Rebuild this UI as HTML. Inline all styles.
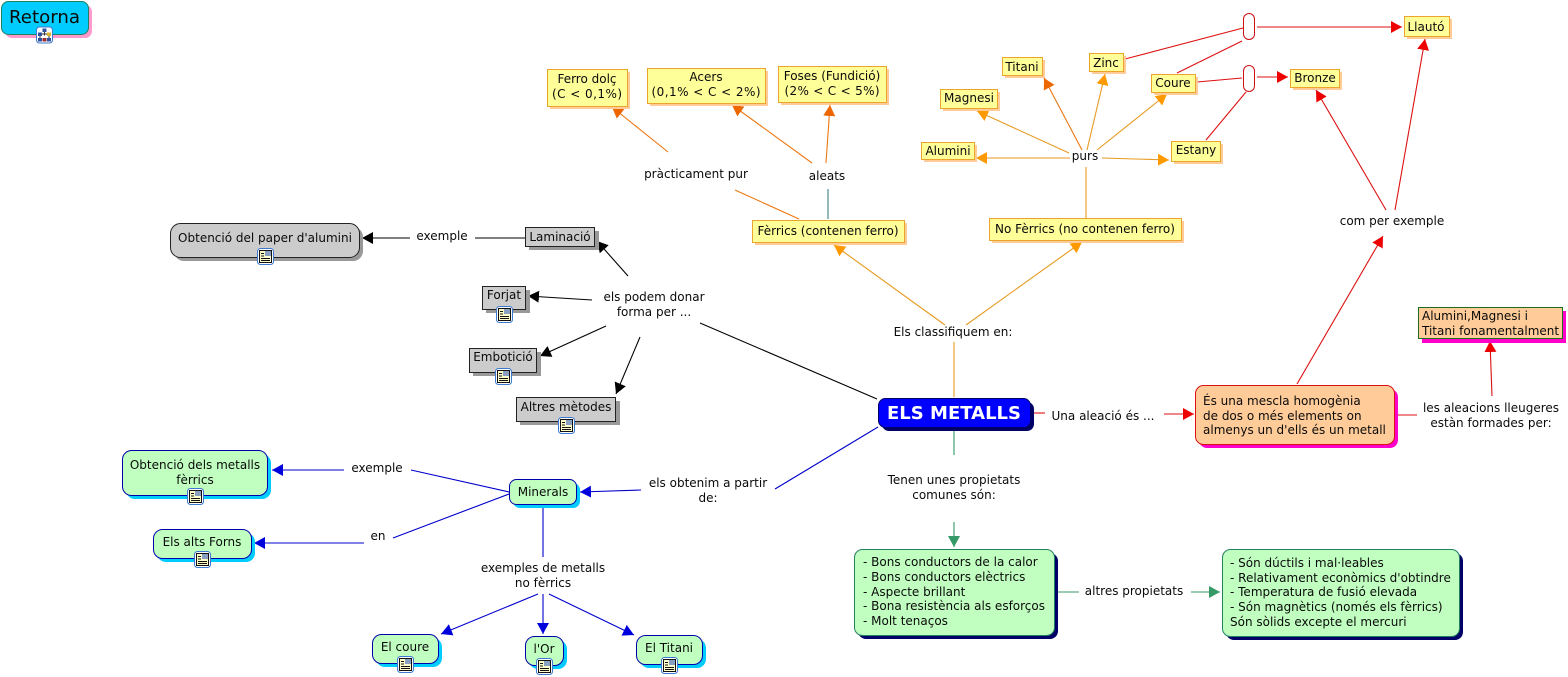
<!DOCTYPE html>
<html><head><meta charset="utf-8"><title>Els metalls</title>
<style>
html,body{margin:0;padding:0;background:#fff}
svg{display:block;font-family:"DejaVu Sans","Liberation Sans",sans-serif;font-size:12px;fill:#000}
text{text-anchor:middle;fill:#0a0a0a}
text.l{text-anchor:start}
line{stroke-width:1.1}
.o{stroke:#ee7711}.y{stroke:#e69a20}.r{stroke:#dd1111}.k{stroke:#000}.b{stroke:#0000cc}.g{stroke:#339966}
</style></head><body>
<svg width="1568" height="677" viewBox="0 0 1568 677" xmlns="http://www.w3.org/2000/svg">
<defs>
<marker id="ao" markerUnits="userSpaceOnUse" markerWidth="13" markerHeight="13" refX="11" refY="6" orient="auto"><path d="M0 0L11 6L0 12Z" fill="#ee6600"/></marker>
<marker id="ay" markerUnits="userSpaceOnUse" markerWidth="13" markerHeight="13" refX="11" refY="6" orient="auto"><path d="M0 0L11 6L0 12Z" fill="#ff9900"/></marker>
<marker id="ar" markerUnits="userSpaceOnUse" markerWidth="13" markerHeight="13" refX="11" refY="6" orient="auto"><path d="M0 0L11 6L0 12Z" fill="#ee0000"/></marker>
<marker id="ak" markerUnits="userSpaceOnUse" markerWidth="13" markerHeight="13" refX="11" refY="6" orient="auto"><path d="M0 0L11 6L0 12Z" fill="#000"/></marker>
<marker id="ab" markerUnits="userSpaceOnUse" markerWidth="13" markerHeight="13" refX="11" refY="6" orient="auto"><path d="M0 0L11 6L0 12Z" fill="#0000dd"/></marker>
<marker id="ag" markerUnits="userSpaceOnUse" markerWidth="13" markerHeight="13" refX="11" refY="6" orient="auto"><path d="M0 0L11 6L0 12Z" fill="#339966"/></marker>
<g id="ic">
<rect x="0.5" y="0.5" width="16" height="16" rx="3" fill="#fff" stroke="#3b78d0"/>
<rect x="2.5" y="2.5" width="12" height="12" fill="#ffffcc" stroke="#111"/>
<rect x="8" y="3" width="6" height="5" fill="#8aa0c0"/>
<path d="M4 5.5h3M4 8h3M4 10.5h9M4 12.5h9" stroke="#111" stroke-width="1"/>
</g>
<g id="net">
<rect x="0.5" y="0.5" width="16" height="16" rx="3" fill="#fff" stroke="#3b78d0"/>
<path d="M8.5 4V9M4 7.5H13M4 7.5V12M13 7.5V12" stroke="#333" fill="none"/>
<rect x="6.5" y="2" width="4" height="3.5" fill="#3050a0"/>
<rect x="2" y="6" width="4" height="3.5" fill="#3050a0"/>
<rect x="11" y="6" width="4" height="3.5" fill="#e0b030"/>
<rect x="2" y="11.5" width="4" height="3.5" fill="#3050a0"/>
<rect x="11" y="11.5" width="4" height="3.5" fill="#3050a0"/>
<rect x="6.5" y="11.5" width="4" height="3.5" fill="#a03030"/>
</g>
</defs>

<!-- connectors -->
<line class="o" x1="799" y1="219" x2="735" y2="190"/>
<line class="o" x1="668" y1="152" x2="612" y2="107" marker-end="url(#ao)"/>
<line class="o" x1="812" y1="163" x2="732" y2="105" marker-end="url(#ao)"/>
<line class="o" x1="826" y1="163" x2="830" y2="105" marker-end="url(#ao)"/>
<line x1="828" y1="219" x2="828" y2="189" stroke="#408080"/>
<line class="y" x1="954" y1="397" x2="954" y2="342"/>
<line class="y" x1="945" y1="325" x2="834" y2="245" marker-end="url(#ay)"/>
<line class="y" x1="966" y1="325" x2="1082" y2="242" marker-end="url(#ay)"/>
<line class="y" x1="1086" y1="218" x2="1086" y2="167"/>
<line class="y" x1="1070" y1="158" x2="976" y2="158" marker-end="url(#ay)"/>
<line class="y" x1="1102" y1="158" x2="1169" y2="160" marker-end="url(#ay)"/>
<line class="y" x1="1069" y1="153" x2="977" y2="111" marker-end="url(#ay)"/>
<line class="o" x1="1082" y1="150" x2="1044" y2="78" marker-end="url(#ao)"/>
<line class="y" x1="1087" y1="150" x2="1105" y2="74" marker-end="url(#ay)"/>
<line class="y" x1="1097" y1="150" x2="1167" y2="94" marker-end="url(#ay)"/>
<line class="r" x1="1125" y1="59" x2="1243" y2="28"/>
<line class="r" x1="1177" y1="73" x2="1242" y2="41"/>
<line class="r" x1="1197" y1="82" x2="1242" y2="78"/>
<line class="r" x1="1206" y1="140" x2="1246" y2="92"/>
<line class="r" x1="1257" y1="27" x2="1402" y2="27" marker-end="url(#ar)"/>
<line class="r" x1="1257" y1="77" x2="1288" y2="77" marker-end="url(#ar)"/>
<line class="r" x1="1386" y1="210" x2="1316" y2="90" marker-end="url(#ar)"/>
<line class="r" x1="1395" y1="210" x2="1425" y2="39" marker-end="url(#ar)"/>
<line class="r" x1="1297" y1="384" x2="1383" y2="236" marker-end="url(#ar)"/>
<line class="r" x1="1033" y1="413" x2="1045" y2="413"/>
<line class="r" x1="1164" y1="414" x2="1194" y2="414" marker-end="url(#ar)"/>
<line class="r" x1="1397" y1="415" x2="1417" y2="415"/>
<line class="r" x1="1492" y1="396" x2="1490" y2="341" marker-end="url(#ar)"/>
<line class="k" x1="877" y1="399" x2="700" y2="323"/>
<line class="k" x1="628" y1="276" x2="597" y2="241" marker-end="url(#ak)"/>
<line class="k" x1="592" y1="300" x2="528" y2="296" marker-end="url(#ak)"/>
<line class="k" x1="606" y1="326" x2="540" y2="356" marker-end="url(#ak)"/>
<line class="k" x1="640" y1="337" x2="616" y2="394" marker-end="url(#ak)"/>
<line class="k" x1="525" y1="238" x2="475" y2="238"/>
<line class="k" x1="410" y1="238" x2="362" y2="238" marker-end="url(#ak)"/>
<line class="b" x1="878" y1="427" x2="775" y2="489"/>
<line class="b" x1="641" y1="490" x2="580" y2="492" marker-end="url(#ab)"/>
<line class="b" x1="509" y1="492" x2="411" y2="470"/>
<line class="b" x1="344" y1="470" x2="272" y2="470" marker-end="url(#ab)"/>
<line class="b" x1="509" y1="494" x2="393" y2="538"/>
<line class="b" x1="364" y1="543" x2="254" y2="543" marker-end="url(#ab)"/>
<line class="b" x1="543" y1="508" x2="543" y2="557"/>
<line class="b" x1="538" y1="594" x2="441" y2="634" marker-end="url(#ab)"/>
<line class="b" x1="543" y1="594" x2="543" y2="634" marker-end="url(#ab)"/>
<line class="b" x1="549" y1="594" x2="634" y2="635" marker-end="url(#ab)"/>
<line class="g" x1="954" y1="431" x2="954" y2="455"/>
<line class="g" x1="954" y1="522" x2="954" y2="547" marker-end="url(#ag)"/>
<line class="g" x1="1058" y1="592" x2="1079" y2="592"/>
<line class="g" x1="1191" y1="592" x2="1220" y2="592" marker-end="url(#ag)"/>
<rect x="1243.5" y="13.5" width="11" height="26" rx="5.5" fill="#fff" stroke="#cc1111"/>
<rect x="1243.5" y="65.5" width="11" height="26" rx="5.5" fill="#fff" stroke="#cc1111"/>

<!-- Retorna -->
<rect x="5" y="5" width="87" height="33" rx="7" fill="#ff99cc"/>
<rect x="1.5" y="1.5" width="87" height="33" rx="7" fill="#00ccff" stroke="#208060"/>
<text x="44.5" y="23" font-size="18" fill="#123" textLength="71" lengthAdjust="spacingAndGlyphs">Retorna</text>
<use href="#net" x="36" y="26.5"/>

<!-- yellow nodes -->
<g fill="#ffcc99">
<rect x="550" y="72" width="80" height="37"/><rect x="650" y="71" width="118" height="35"/><rect x="781" y="69" width="108" height="36"/>
<rect x="755" y="223" width="152" height="22"/><rect x="992" y="221" width="192" height="22"/>
<rect x="1005" y="60" width="40" height="18"/><rect x="1092" y="56" width="34" height="18"/><rect x="1154" y="77" width="44" height="18"/>
<rect x="943" y="92" width="57" height="19"/><rect x="924" y="145" width="53" height="17"/><rect x="1174" y="144" width="49" height="20"/>
<rect x="1407" y="19" width="45" height="20"/><rect x="1293" y="72" width="49" height="18"/>
</g>
<g fill="#ffff99" stroke="#eca52c">
<rect x="547.5" y="69.5" width="80" height="37"/><rect x="647.5" y="68.5" width="118" height="35"/><rect x="778.5" y="66.5" width="108" height="36"/>
<rect x="752.5" y="220.5" width="152" height="22"/><rect x="989.5" y="218.5" width="192" height="22"/>
<rect x="1002.5" y="57.5" width="40" height="18"/><rect x="1089.5" y="53.5" width="34" height="18"/><rect x="1151.5" y="74.5" width="44" height="18"/>
<rect x="940.5" y="89.5" width="57" height="19"/><rect x="921.5" y="142.5" width="53" height="17"/><rect x="1171.5" y="141.5" width="49" height="20"/>
<rect x="1404.5" y="16.5" width="45" height="20"/><rect x="1290.5" y="69.5" width="49" height="18"/>
</g>
<text x="587" y="83">Ferro dolç</text><text x="587" y="98" textLength="70">(C &lt; 0,1%)</text>
<text x="706" y="81">Acers</text><text x="706" y="96" textLength="109">(0,1% &lt; C &lt; 2%)</text>
<text x="832" y="80">Foses (Fundició)</text><text x="832" y="95" textLength="95">(2% &lt; C &lt; 5%)</text>
<text x="828" y="235">Fèrrics (contenen ferro)</text>
<text x="1085" y="233">No Fèrrics (no contenen ferro)</text>
<text x="1022" y="71">Titani</text><text x="1106" y="67">Zinc</text><text x="1173" y="87">Coure</text>
<text x="969" y="102">Magnesi</text><text x="948" y="155">Alumini</text><text x="1196" y="154">Estany</text>
<text x="1426" y="31">Llautó</text><text x="1315" y="82">Bronze</text>

<!-- grey nodes -->
<g fill="#999">
<rect x="529" y="231" width="70" height="19"/><rect x="486" y="290" width="44" height="23"/><rect x="473" y="352" width="68" height="24"/><rect x="520" y="401" width="100" height="24"/><rect x="174" y="227" width="189" height="34" rx="10"/>
</g>
<g fill="#cccccc" stroke="#222">
<rect x="525.5" y="227.5" width="69" height="19"/><rect x="482.5" y="286.5" width="43" height="23"/><rect x="469.5" y="348.5" width="67" height="24"/><rect x="516.5" y="397.5" width="99" height="24"/><rect x="170.5" y="223.5" width="189" height="34" rx="10"/>
</g>
<text x="560" y="241">Laminació</text><text x="504" y="299">Forjat</text><text x="503" y="361">Embotició</text><text x="566" y="411">Altres mètodes</text><text x="265" y="242">Obtenció del paper d'alumini</text>
<use href="#ic" x="257" y="248"/><use href="#ic" x="496" y="306"/><use href="#ic" x="495" y="368"/><use href="#ic" x="558" y="417"/>

<!-- central -->
<rect x="882" y="402" width="152" height="29" rx="7" fill="#000066"/>
<rect x="878.5" y="398.5" width="152" height="29" rx="7" fill="#0000ff" stroke="#000066"/>
<text x="954" y="419" font-size="18" font-weight="bold" style="fill:#fff" textLength="134" lengthAdjust="spacingAndGlyphs">ELS METALLS</text>

<!-- green big -->
<rect x="858" y="553" width="200" height="86" rx="8" fill="#000066"/>
<rect x="854.5" y="549.5" width="200" height="86" rx="8" fill="#c1ffc1" stroke="#208060"/>
<g><text class="l" x="863" y="566">- Bons conductors de la calor</text><text class="l" x="863" y="581">- Bons conductors elèctrics</text><text class="l" x="863" y="596">- Aspecte brillant</text><text class="l" x="863" y="610">- Bona resistència als esforços</text><text class="l" x="863" y="625">- Molt tenaços</text></g>
<rect x="1226" y="553" width="237" height="87" rx="8" fill="#000066"/>
<rect x="1222.5" y="549.5" width="237" height="87" rx="8" fill="#c1ffc1" stroke="#208060"/>
<g><text class="l" x="1230" y="567">- Són dúctils i mal·leables</text><text class="l" x="1230" y="582">- Relativament econòmics d'obtindre</text><text class="l" x="1230" y="596">- Temperatura de fusió elevada</text><text class="l" x="1230" y="611">- Són magnètics (només els fèrrics)</text><text class="l" x="1230" y="626">Són sòlids excepte el mercuri</text></g>

<!-- orange -->
<rect x="1199" y="389" width="199" height="59" rx="8" fill="#ff00cc"/>
<rect x="1195.5" y="385.5" width="199" height="59" rx="8" fill="#ffcc99" stroke="#dd1111"/>
<text class="l" x="1203" y="405">És una mescla homogènia</text><text class="l" x="1203" y="420">de dos o més elements on</text><text class="l" x="1203" y="434">almenys un d'ells és un metall</text>
<rect x="1422" y="311" width="144" height="32" fill="#ff00cc"/>
<rect x="1418.5" y="307.5" width="144" height="31" fill="#ffcc99" stroke="#1f6b1f"/>
<text class="l" x="1422" y="320">Alumini,Magnesi i</text><text class="l" x="1422" y="335">Titani fonamentalment</text>

<!-- light green blue -->
<g fill="#00ccff">
<rect x="513" y="483" width="67" height="25" rx="7"/><rect x="126" y="454" width="145" height="45" rx="9"/><rect x="157" y="533" width="98" height="29" rx="9"/><rect x="376" y="638" width="66" height="29" rx="9"/><rect x="529" y="640" width="38" height="29" rx="9"/><rect x="640" y="639" width="66" height="29" rx="9"/>
</g>
<g fill="#c1ffc1" stroke="#0000aa">
<rect x="509.5" y="479.5" width="67" height="25" rx="7"/><rect x="122.5" y="450.5" width="145" height="45" rx="9"/><rect x="153.5" y="529.5" width="98" height="29" rx="9"/><rect x="372.5" y="634.5" width="66" height="29" rx="9"/><rect x="525.5" y="636.5" width="38" height="29" rx="9"/><rect x="636.5" y="635.5" width="66" height="29" rx="9"/>
</g>
<text x="543" y="496">Minerals</text>
<text x="195" y="469">Obtenció dels metalls</text><text x="195" y="484">fèrrics</text>
<text x="202" y="546">Els alts Forns</text><text x="405" y="651">El coure</text><text x="544" y="653">l'Or</text><text x="669" y="652">El Titani</text>
<use href="#ic" x="187" y="488"/><use href="#ic" x="194" y="551"/><use href="#ic" x="397" y="656"/><use href="#ic" x="536" y="658"/><use href="#ic" x="661" y="657"/>

<!-- labels -->
<text x="696" y="178">pràcticament pur</text>
<text x="827" y="180">aleats</text>
<text x="1085" y="160">purs</text>
<text x="1392" y="225">com per exemple</text>
<text x="953" y="336">Els classifiquem en:</text>
<text x="654" y="301">els podem donar</text><text x="654" y="316">forma per ...</text>
<text x="442" y="240">exemple</text>
<text x="1103" y="420">Una aleació és ...</text>
<text x="1491" y="412">les aleacions lleugeres</text><text x="1491" y="427">estàn formades per:</text>
<text x="954" y="484">Tenen unes propietats</text><text x="954" y="499">comunes són:</text>
<text x="1134" y="595">altres propietats</text>
<text x="708" y="487">els obtenim a partir</text><text x="708" y="502">de:</text>
<text x="377" y="472">exemple</text>
<text x="378" y="540">en</text>
<text x="543" y="572">exemples de metalls</text><text x="543" y="587">no fèrrics</text>
</svg>
</body></html>
